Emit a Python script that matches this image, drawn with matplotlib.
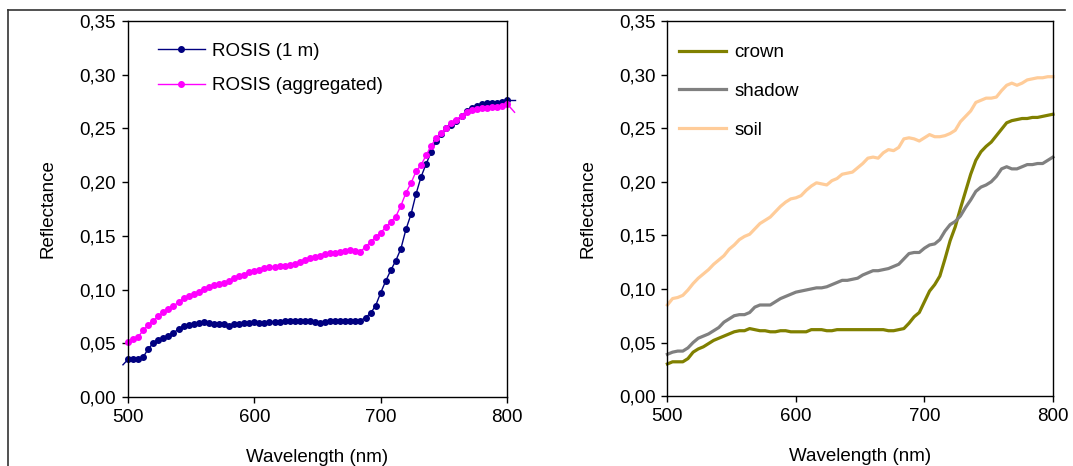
import matplotlib
matplotlib.use("Agg")
import matplotlib.pyplot as plt
from matplotlib.lines import Line2D
from matplotlib.ticker import FuncFormatter
import numpy as np

plt.rcParams['font.family'] = ['Liberation Sans', 'DejaVu Sans']

# ---- data ----
wavelength = list(range(500, 801, 4))

rosis_1m = [0.035, 0.035, 0.035, 0.037, 0.045, 0.050, 0.053, 0.055, 0.057, 0.060,
            0.063, 0.066, 0.067, 0.068, 0.069, 0.070, 0.069, 0.068, 0.068, 0.068,
            0.066, 0.068, 0.068, 0.069, 0.069, 0.070, 0.069, 0.069, 0.070, 0.070,
            0.070, 0.071, 0.071, 0.071, 0.071, 0.071, 0.071, 0.070, 0.069, 0.070,
            0.071, 0.071, 0.071, 0.071, 0.071, 0.071, 0.071, 0.074, 0.078, 0.085,
            0.097, 0.108, 0.118, 0.127, 0.138, 0.156, 0.170, 0.189, 0.205, 0.217,
            0.228, 0.238, 0.245, 0.250, 0.253, 0.257, 0.262, 0.266, 0.269, 0.271,
            0.273, 0.274, 0.274, 0.274, 0.275, 0.276]

rosis_agg = [0.051, 0.054, 0.056, 0.062, 0.067, 0.071, 0.075, 0.079, 0.082, 0.085,
             0.088, 0.092, 0.094, 0.096, 0.098, 0.101, 0.102, 0.104, 0.105, 0.106,
             0.108, 0.111, 0.113, 0.114, 0.116, 0.117, 0.118, 0.120, 0.121, 0.121,
             0.122, 0.122, 0.123, 0.124, 0.126, 0.128, 0.129, 0.130, 0.131, 0.133,
             0.134, 0.134, 0.135, 0.136, 0.137, 0.136, 0.135, 0.140, 0.144, 0.149,
             0.153, 0.158, 0.163, 0.168, 0.178, 0.190, 0.199, 0.210, 0.216, 0.225,
             0.234, 0.241, 0.246, 0.250, 0.255, 0.258, 0.262, 0.265, 0.267, 0.268,
             0.269, 0.269, 0.270, 0.270, 0.271, 0.273]

# short line stubs that run past the plot edges
rosis_1m_stub_wl = [496, 500]
rosis_1m_stub = [0.030, 0.035]
rosis_1m_end_wl = [800, 806]
rosis_1m_end = [0.276, 0.276]
rosis_agg_end_wl = [800, 806]
rosis_agg_end = [0.273, 0.265]

crown = [0.030, 0.032, 0.032, 0.032, 0.035, 0.041, 0.044, 0.046, 0.049, 0.052,
         0.054, 0.056, 0.058, 0.060, 0.061, 0.061, 0.063, 0.062, 0.061, 0.061,
         0.060, 0.060, 0.061, 0.061, 0.060, 0.060, 0.060, 0.060, 0.062, 0.062,
         0.062, 0.061, 0.061, 0.062, 0.062, 0.062, 0.062, 0.062, 0.062, 0.062,
         0.062, 0.062, 0.062, 0.061, 0.061, 0.062, 0.063, 0.068, 0.074, 0.078,
         0.088, 0.098, 0.104, 0.112, 0.128, 0.145, 0.158, 0.175, 0.191, 0.207,
         0.220, 0.228, 0.233, 0.237, 0.243, 0.249, 0.255, 0.257, 0.258, 0.259,
         0.259, 0.260, 0.260, 0.261, 0.262, 0.263]

shadow = [0.039, 0.041, 0.042, 0.042, 0.045, 0.050, 0.054, 0.056, 0.058, 0.061,
          0.064, 0.069, 0.072, 0.075, 0.076, 0.076, 0.078, 0.083, 0.085, 0.085,
          0.085, 0.088, 0.091, 0.093, 0.095, 0.097, 0.098, 0.099, 0.100, 0.101,
          0.101, 0.102, 0.104, 0.106, 0.108, 0.108, 0.109, 0.110, 0.113, 0.115,
          0.117, 0.117, 0.118, 0.119, 0.121, 0.123, 0.128, 0.133, 0.134, 0.134,
          0.138, 0.141, 0.142, 0.146, 0.154, 0.160, 0.163, 0.168, 0.176, 0.183,
          0.191, 0.195, 0.197, 0.200, 0.205, 0.212, 0.214, 0.212, 0.212, 0.214,
          0.216, 0.216, 0.217, 0.217, 0.220, 0.223]

soil = [0.085, 0.091, 0.092, 0.094, 0.099, 0.105, 0.110, 0.114, 0.118, 0.123,
        0.127, 0.131, 0.137, 0.141, 0.146, 0.149, 0.151, 0.156, 0.161, 0.164,
        0.167, 0.172, 0.177, 0.181, 0.184, 0.185, 0.187, 0.192, 0.196, 0.199,
        0.198, 0.197, 0.201, 0.203, 0.207, 0.208, 0.209, 0.213, 0.217, 0.222,
        0.223, 0.222, 0.227, 0.230, 0.229, 0.232, 0.240, 0.241, 0.240, 0.238,
        0.241, 0.244, 0.242, 0.242, 0.243, 0.245, 0.248, 0.256, 0.261, 0.266,
        0.274, 0.276, 0.278, 0.278, 0.279, 0.285, 0.290, 0.292, 0.290, 0.292,
        0.295, 0.296, 0.297, 0.297, 0.298, 0.298]

x_ticks = [500, 600, 700, 800]
y_ticks = [0.00, 0.05, 0.10, 0.15, 0.20, 0.25, 0.30, 0.35]

# ---- figure ----
fig = plt.figure(figsize=(10.73, 4.66), dpi=100)
ax1 = fig.add_axes([0.1193, 0.148, 0.3532, 0.807])
ax2 = fig.add_axes([0.622, 0.150, 0.3593, 0.805])

fmt = FuncFormatter(lambda v, p: f"{v:.2f}".replace('.', ','))
FS = 13.5

for ax in (ax1, ax2):
    ax.set_xlim(500, 800)
    ax.set_ylim(0, 0.35)
    ax.set_xticks(x_ticks)
    ax.set_yticks(y_ticks)
    ax.yaxis.set_major_formatter(fmt)
    ax.tick_params(direction='out', length=4.5, width=1, labelsize=FS,
                   top=False, right=False, colors='black', pad=4)
    for s in ax.spines.values():
        s.set_linewidth(1.0)
        s.set_color('black')
    ax.set_xlabel('Wavelength (nm)', fontsize=FS, labelpad=16.5)
    ax.set_ylabel('Reflectance', fontsize=FS, labelpad=16.5)

# left panel
ax1.plot(rosis_1m_stub_wl, rosis_1m_stub, color='#000080', lw=1.0, clip_on=False)
ax1.plot(rosis_1m_end_wl, rosis_1m_end, color='#000080', lw=1.0, clip_on=False)
ax1.plot(rosis_agg_end_wl, rosis_agg_end, color='#FF00FF', lw=1.0, clip_on=False)
ax1.plot(wavelength, rosis_1m, color='#000080', lw=1.0, marker='o', ms=4,
         label='ROSIS (1 m)', clip_on=False)
ax1.plot(wavelength, rosis_agg, color='#FF00FF', lw=1.0, marker='o', ms=4,
         label='ROSIS (aggregated)', clip_on=False)
ax1.legend(loc='upper left', bbox_to_anchor=(0.079, 0.943), frameon=False,
           fontsize=FS, handlelength=2.5, numpoints=1, labelspacing=0.94,
           borderpad=0, borderaxespad=0, handletextpad=0.37)

# right panel
ax2.plot(wavelength, crown, color='#808000', lw=2.3, label='crown', clip_on=False)
ax2.plot(wavelength, shadow, color='#808080', lw=2.3, label='shadow', clip_on=False)
ax2.plot(wavelength, soil, color='#FFCC99', lw=2.3, label='soil', clip_on=False)
ax2.legend(loc='upper left', bbox_to_anchor=(0.031, 0.938), frameon=False,
           fontsize=FS, handlelength=2.5, labelspacing=1.15,
           borderpad=0, borderaxespad=0, handletextpad=0.42)

# outer frame lines
fig.add_artist(Line2D([8 / 1073, 8 / 1073], [0, 1 - 10 / 466], color='#333333', lw=1.2,
                      transform=fig.transFigure))
fig.add_artist(Line2D([8 / 1073, 1065 / 1073], [1 - 10 / 466, 1 - 10 / 466],
                      color='#333333', lw=1.2, transform=fig.transFigure))

fig.savefig('out.png', dpi=100)
